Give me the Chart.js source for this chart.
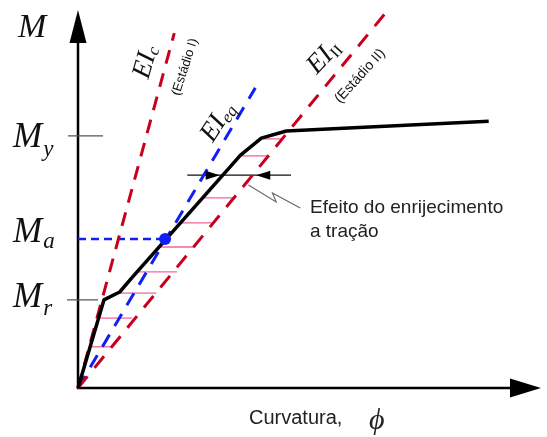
<!DOCTYPE html>
<html lang="pt">
<head>
<meta charset="utf-8">
<title>Momento x curvatura</title>
<script src="https://cdn.jsdelivr.net/npm/chart.js@4.4.1/dist/chart.umd.min.js"></script>
<style>
  html, body { margin: 0; padding: 0; background: #fff; }
  canvas { display: block; }
</style>
</head>
<body>
<canvas id="mc-chart" width="547" height="437"></canvas>
<script>
// curvatura (phi) e momento (M) em unidades relativas, 0..10 nos dois eixos
const curveX = [0, 0.56, 0.90, 1.18, 3.51, 3.96, 4.50, 8.87];
const curveY = [0, 2.33, 2.54, 2.94, 6.16, 6.61, 6.80, 7.06];

const M_R = 2.33;
const M_A = 3.94;
const M_Y = 6.67;
const PHI_A = 1.88;

// retas de rigidez saindo da origem: [phi, M] do ponto final
const eiC = [2.08, 9.39];
const eiEq = [3.83, 7.94];
const eiII = [6.64, 9.92];

// hachuras entre a curva real e o estádio II
const hatchY  = [1.09, 1.85, 2.51, 3.07, 3.73, 4.37, 5.03, 6.14, 6.59];
const hatchX0 = [0.30, 0.47, 0.90, 1.28, 1.76, 2.18, 2.68, 3.53, 3.96];
const hatchX1 = [0.73, 1.17, 1.69, 2.14, 2.51, 2.93, 3.40, 4.11, 4.43];

// cota do enrijecimento e linha de chamada
const dimY = 5.63;
const dimX = [2.36, 4.60];
const dimTips = [3.06, 3.85];
const leaderX = [3.68, 4.28, 4.20, 4.80];
const leaderY = [5.37, 4.92, 5.16, 4.76];

const RED = '#c8001e';
const BLUE = '#1020f5';
const PINK = '#f2649f';
const SERIF = '"Liberation Serif", "DejaVu Serif", serif';
const SANS = '"Liberation Sans", Arial, sans-serif';

const pts = (xs, ys) => xs.map((x, i) => ({ x, y: ys[i] }));
const ray = end => [{ x: 0, y: 0 }, { x: end[0], y: end[1] }];

const line = (data, color, width, dash) => ({
  data,
  showLine: true,
  borderColor: color,
  borderWidth: width,
  borderDash: dash || [],
  pointRadius: 0,
  fill: false,
  tension: 0,
  clip: false
});

const hatches = hatchY.map((y, i) =>
  line([{ x: hatchX0[i], y }, { x: hatchX1[i], y }], PINK, 1.3));

const datasets = [
  {
    data: [{ x: PHI_A, y: M_A }],
    showLine: false,
    pointRadius: 6,
    pointBackgroundColor: BLUE,
    pointBorderWidth: 0,
    clip: false
  },
  Object.assign(line(pts(curveX, curveY), '#000', 3.5), { borderJoinStyle: 'round' }),
  line(ray(eiII), RED, 3, [15, 11]),
  line(ray(eiC), RED, 3, [14, 10]),
  line(ray(eiEq), BLUE, 3, [14, 10]),
  line([{ x: 0, y: M_A }, { x: PHI_A, y: M_A }], BLUE, 2.5, [8, 5]),
  line([{ x: dimX[0], y: dimY }, { x: dimX[1], y: dimY }], '#111', 1.2),
  line(pts(leaderX, leaderY), '#666', 1.1),
  ...hatches
];

function subLabel(ctx, main, sub, x0, base, mainFont, subFont, drop) {
  ctx.font = mainFont;
  ctx.fillText(main, x0, base);
  const w = ctx.measureText(main).width;
  ctx.font = subFont;
  ctx.fillText(sub, x0 + w + 1, base + drop);
}

// texto girado, centrado em (cx, cy)
function rotLabel(ctx, cx, cy, deg, main, mainFont, sub, subFont, drop) {
  ctx.save();
  ctx.translate(cx, cy);
  ctx.rotate(deg * Math.PI / 180);
  ctx.textBaseline = 'middle';
  ctx.font = mainFont;
  const w1 = ctx.measureText(main).width;
  let w2 = 0;
  if (sub) { ctx.font = subFont; w2 = ctx.measureText(sub).width; }
  const x0 = -(w1 + w2) / 2;
  ctx.font = mainFont;
  ctx.fillText(main, x0, 0);
  if (sub) { ctx.font = subFont; ctx.fillText(sub, x0 + w1, drop); }
  ctx.restore();
}

function arrowHead(ctx, tipX, tipY, dir, len, half) {
  // dir: 'up' | 'right' | 'left'
  ctx.beginPath();
  ctx.moveTo(tipX, tipY);
  if (dir === 'up') {
    ctx.lineTo(tipX - half, tipY + len);
    ctx.lineTo(tipX + half, tipY + len);
  } else if (dir === 'right') {
    ctx.lineTo(tipX - len, tipY - half);
    ctx.lineTo(tipX - len, tipY + half);
  } else {
    ctx.lineTo(tipX + len, tipY - half);
    ctx.lineTo(tipX + len, tipY + half);
  }
  ctx.closePath();
  ctx.fill();
}

const decor = {
  id: 'decor',
  beforeDatasetsDraw(chart) {
    const { ctx, chartArea: a } = chart;
    ctx.save();
    ctx.strokeStyle = '#000';
    ctx.fillStyle = '#000';
    ctx.lineWidth = 2.5;
    ctx.beginPath();
    ctx.moveTo(a.left, a.top + 30);
    ctx.lineTo(a.left, a.bottom);
    ctx.lineTo(a.right - 28, a.bottom);
    ctx.stroke();
    arrowHead(ctx, a.left, a.top, 'up', 33, 8.5);
    arrowHead(ctx, a.right, a.bottom, 'right', 31, 9.5);
    ctx.restore();
  },
  afterDatasetsDraw(chart) {
    const { ctx, chartArea: a, scales: { x, y } } = chart;
    ctx.save();

    // marcas de My e Mr no eixo
    ctx.strokeStyle = '#555';
    ctx.lineWidth = 1.2;
    const pMy = y.getPixelForValue(M_Y);
    const pMr = y.getPixelForValue(M_R);
    const pMa = y.getPixelForValue(M_A);
    ctx.beginPath();
    ctx.moveTo(a.left - 10, pMy); ctx.lineTo(a.left + 25, pMy);
    ctx.moveTo(a.left - 11, pMr); ctx.lineTo(a.left + 20, pMr);
    ctx.stroke();

    // setas da cota
    ctx.fillStyle = '#000';
    const pd = y.getPixelForValue(dimY);
    arrowHead(ctx, x.getPixelForValue(dimTips[0]), pd, 'right', 14, 4.5);
    arrowHead(ctx, x.getPixelForValue(dimTips[1]), pd, 'left', 14, 4.5);

    // rótulos do eixo M
    ctx.fillStyle = '#111';
    ctx.textBaseline = 'alphabetic';
    ctx.textAlign = 'left';
    ctx.font = 'italic 34px ' + SERIF;
    ctx.fillText('M', 18, 37);
    const mFont = 'italic 35px ' + SERIF;
    const sFont = 'italic 23px ' + SERIF;
    subLabel(ctx, 'M', 'y', 13, pMy + 11, mFont, sFont, 9);
    subLabel(ctx, 'M', 'a', 13, pMa + 3, mFont, sFont, 6);
    subLabel(ctx, 'M', 'r', 13, pMr + 7, mFont, sFont, 8);

    // rigidezes
    const eiFont = 'italic 27px ' + SERIF;
    const eiSub = 'italic 17px ' + SERIF;
    rotLabel(ctx, 146, 62, -74, 'EI', eiFont, 'c', eiSub, 5);
    rotLabel(ctx, 218, 122, -57, 'EI', eiFont, 'eq', eiSub, 6);
    rotLabel(ctx, 324, 57, -47, 'EI', eiFont, 'II', '16px ' + SERIF, 6);
    rotLabel(ctx, 185, 67, -72, '(Estádio I)', '13px ' + SANS);
    rotLabel(ctx, 360, 76, -48, '(Estádio II)', '14px ' + SANS);

    // notas
    ctx.fillStyle = '#222';
    ctx.font = '19px ' + SANS;
    ctx.fillText('Efeito do enrijecimento', 310, 213);
    ctx.fillText('a tração', 310, 237);
    ctx.font = '20px ' + SANS;
    ctx.fillText('Curvatura,', 249, 424);
    ctx.font = 'italic 30px ' + SERIF;
    ctx.fillText('\u03D5', 369, 429);

    ctx.restore();
  }
};

new Chart(document.getElementById('mc-chart'), {
  type: 'scatter',
  data: { datasets },
  options: {
    responsive: false,
    animation: false,
    devicePixelRatio: 1,
    layout: { padding: { left: 78, top: 10, right: 1, bottom: 49 } },
    scales: {
      x: { type: 'linear', min: 0, max: 10, display: false },
      y: { type: 'linear', min: 0, max: 10, display: false }
    },
    plugins: {
      legend: { display: false },
      tooltip: { enabled: false }
    }
  },
  plugins: [decor]
});
</script>
</body>
</html>
